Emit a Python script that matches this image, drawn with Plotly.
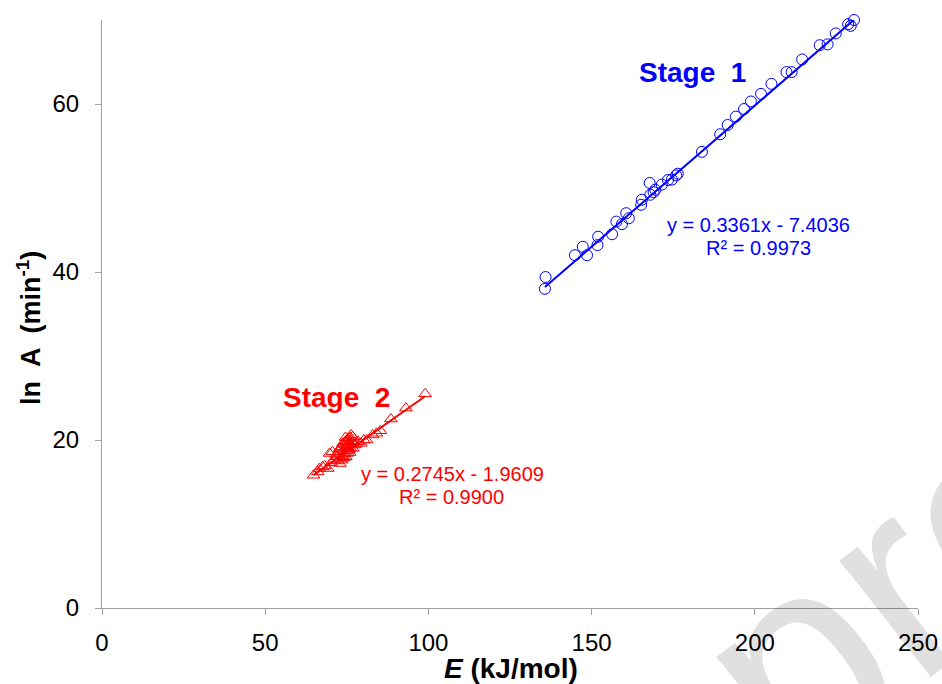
import plotly.graph_objects as go

# Stage 1 (E in kJ/mol, ln A in min^-1)
E1 = [135.7, 135.9, 144.9, 147.3, 148.6, 151.8, 152.0, 156.3, 157.6, 159.3,
      160.6, 161.4, 165.2, 165.4, 167.8, 168.0, 169.0, 169.5, 171.5, 173.4,
      174.6, 175.9, 176.4, 183.8, 189.4, 191.7, 194.2, 196.7, 198.8, 201.9,
      205.1, 209.7, 211.3, 214.5, 219.9, 222.3, 224.8, 228.6, 229.4, 230.4]
Y1 = [38.0, 39.4, 42.0, 43.0, 42.0, 43.2, 44.2, 44.5, 46.0, 45.7,
      47.0, 46.4, 48.0, 48.6, 50.6, 49.2, 49.5, 49.8, 50.4, 50.95,
      51.0, 51.5, 51.7, 54.3, 56.4, 57.5, 58.5, 59.4, 60.3, 61.2,
      62.4, 63.8, 63.8, 65.3, 67.0, 67.1, 68.4, 69.5, 69.3, 70.0]

# Stage 2
E2 = [64.8, 66.1, 66.6, 67.6, 68.2, 69.2, 69.7, 70.2, 70.6, 71.2,
      71.8, 72.3, 72.7, 73.1, 73.4, 73.7, 74.0, 74.2, 74.5, 74.7,
      74.9, 75.1, 75.3, 75.5, 75.7, 75.9, 76.1, 76.3, 76.6, 76.9,
      77.3, 77.8, 78.5, 79.3, 80.2, 81.1, 82.9, 84.1, 85.3, 88.5,
      93.1, 99.0,
      72.0, 72.5, 73.0, 73.3, 73.8, 74.1, 74.4, 74.8, 75.0, 75.4,
      75.8, 76.0, 76.4, 76.8, 74.6, 73.5, 72.9, 75.6]
Y2 = [15.8, 16.2, 16.6, 16.8, 16.9, 16.6, 18.4, 17.3, 18.6, 17.6,
      18.2, 17.5, 18.9, 17.8, 19.2, 18.1, 19.5, 18.4, 19.8, 18.0,
      19.3, 18.7, 20.1, 19.0, 19.6, 18.5, 20.3, 20.6, 19.7, 19.0,
      19.4, 19.5, 19.8, 19.6, 20.0, 20.0, 20.6, 20.8, 21.1, 22.5,
      23.8, 25.5,
      18.0, 18.6, 19.0, 18.3, 19.6, 17.9, 19.0, 19.9, 18.4, 19.4,
      20.2, 19.1, 19.9, 20.4, 20.3, 17.6, 17.2, 18.8]

# Fitted lines (as given on the chart)
fit1 = (0.3361, -7.4036)
fit2 = (0.2745, -1.9609)
eq1 = ["y = 0.3361x - 7.4036", "R² = 0.9973"]
eq2 = ["y = 0.2745x - 1.9609", "R² = 0.9900"]

x_ticks = [0, 50, 100, 150, 200, 250]
y_ticks = [0, 20, 40, 60]

BLUE = "#0000ff"
RED = "#ff0000"
AXIS = "#a0a0a0"
FONT = "Arial, Liberation Sans, sans-serif"

W, H = 942, 684
ML, MR, MT, MB = 102, 24, 20, 76
XR, YR = (0, 250), (0, 70)


def px2x(px):
    return XR[0] + (px - ML) / (W - ML - MR) * (XR[1] - XR[0])


def px2y(py):
    return YR[0] + (H - MB - py) / (H - MT - MB) * (YR[1] - YR[0])


fig = go.Figure()

l1x = [min(E1), max(E1)]
l1y = [fit1[0] * v + fit1[1] for v in l1x]
l2x = [min(E2), max(E2)]
l2y = [fit2[0] * v + fit2[1] for v in l2x]

fig.add_trace(go.Scatter(x=E1, y=Y1, mode="markers",
                         marker=dict(symbol="circle-open", size=11, color=BLUE,
                                     line=dict(width=1, color=BLUE)),
                         showlegend=False, cliponaxis=False))
fig.add_trace(go.Scatter(x=l1x, y=l1y, mode="lines",
                         line=dict(color=BLUE, width=2), showlegend=False, cliponaxis=False))
fig.add_trace(go.Scatter(x=E2, y=Y2, mode="markers",
                         marker=dict(symbol="triangle-up-open", size=11, color=RED,
                                     line=dict(width=1, color=RED)),
                         showlegend=False, cliponaxis=False))
fig.add_trace(go.Scatter(x=l2x, y=l2y, mode="lines",
                         line=dict(color=RED, width=2), showlegend=False, cliponaxis=False))

annotations = [
    # watermark (partly outside the page, as in the original)
    dict(x=(893 - ML) / (W - ML - MR), y=(H - MB - 585) / (H - MT - MB),
         xref="paper", yref="paper", text="pro",
         showarrow=False, textangle=-38,
         font=dict(family=FONT, size=280, color="rgba(0,0,0,0.12)"),
         xanchor="center", yanchor="middle"),
    dict(x=px2x(692), y=px2y(72), xref="x", yref="y", text="Stage  1", showarrow=False,
         font=dict(family=FONT, size=28, color=BLUE, weight="bold")),
    dict(x=px2x(336), y=px2y(397), xref="x", yref="y", text="Stage  2", showarrow=False,
         font=dict(family=FONT, size=28, color=RED, weight="bold")),
    dict(x=px2x(758), y=px2y(225), xref="x", yref="y", text=eq1[0], showarrow=False,
         font=dict(family=FONT, size=20, color=BLUE)),
    dict(x=px2x(758), y=px2y(248), xref="x", yref="y", text=eq1[1], showarrow=False,
         font=dict(family=FONT, size=20, color=BLUE)),
    dict(x=px2x(452), y=px2y(474), xref="x", yref="y", text=eq2[0], showarrow=False,
         font=dict(family=FONT, size=20, color=RED)),
    dict(x=px2x(451), y=px2y(497), xref="x", yref="y", text=eq2[1], showarrow=False,
         font=dict(family=FONT, size=20, color=RED)),
    # axis titles
    dict(x=px2x(511), y=0, xref="x", yref="paper", yshift=-(668 - (H - MB)),
         text="<b><i>E</i> (kJ/mol)</b>", showarrow=False,
         font=dict(family=FONT, size=28, color="black"),
         xanchor="center", yanchor="middle"),
    dict(x=0, y=px2y(328), xref="paper", yref="y", xshift=-(ML - 29),
         text="<b>ln  A  (min<sup>-1</sup>)</b>", showarrow=False, textangle=-90,
         font=dict(family=FONT, size=27, color="black"),
         xanchor="center", yanchor="middle"),
]

fig.update_layout(
    width=W, height=H,
    margin=dict(l=ML, r=MR, t=MT, b=MB),
    paper_bgcolor="white", plot_bgcolor="white",
    font=dict(family=FONT, size=24, color="black"),
    annotations=annotations,
    xaxis=dict(range=list(XR), tickvals=x_ticks, ticktext=[str(v) for v in x_ticks],
               showgrid=False, zeroline=False, showline=True, linecolor=AXIS,
               linewidth=1, ticks="outside", ticklen=6, tickcolor=AXIS,
               tickfont=dict(size=24), ticklabelstandoff=7, automargin=False),
    yaxis=dict(range=list(YR), tickvals=y_ticks, ticktext=[str(v) for v in y_ticks],
               showgrid=False, zeroline=False, showline=True, linecolor=AXIS,
               linewidth=1, ticks="outside", ticklen=6, tickcolor=AXIS,
               tickfont=dict(size=24), ticklabelstandoff=11, automargin=False),
)

fig.write_html("out.html")
